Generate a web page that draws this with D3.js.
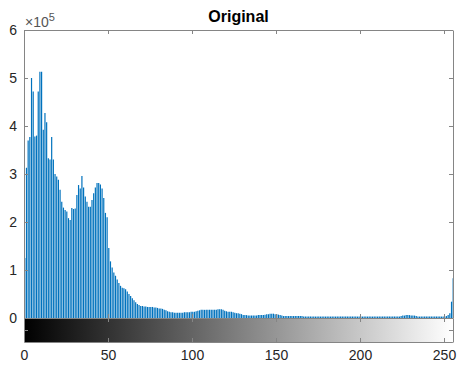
<!DOCTYPE html>
<html>
<head>
<meta charset="utf-8">
<script src="https://cdn.jsdelivr.net/npm/d3@7"></script>
<style>
  body { margin: 0; background: #fff; }
  svg { display: block; }
  text { font-family: "Liberation Sans", Arial, sans-serif; }
</style>
</head>
<body>
<svg id="chart"></svg>
<script>
// pixel counts per gray level 0..255, in thousands
const countsK = [
  125, 313, 370, 377, 500, 472, 378, 380, 472, 513,
  513, 392, 427, 408, 333, 330, 377, 330, 300, 295,
  288, 267, 242, 230, 225, 222, 208, 204, 229, 227,
  228, 256, 277, 270, 296, 272, 253, 242, 232, 232,
  246, 260, 272, 281, 281, 278, 270, 250, 219, 210,
  146, 118, 105, 95, 88, 80, 73, 67, 63, 62,
  60, 55, 50, 46, 41, 37, 33, 29, 27, 25,
  25, 24, 24, 23, 23, 23, 23, 22, 22, 21,
  20, 20, 19, 17, 16, 14, 13, 12, 12, 11,
  11, 11, 11, 11, 11, 12, 12, 12, 12, 13,
  13, 13, 14, 15, 16, 17, 17, 17, 17, 17,
  17, 17, 17, 17, 17, 18, 18, 18, 17, 15,
  14, 13, 13, 13, 12, 11, 10, 10, 9, 8,
  6, 6, 6, 5, 5, 5, 5, 5, 5, 6,
  6, 6, 6, 7, 8, 8, 9, 9, 9, 8,
  8, 7, 6, 5, 4, 4, 4, 4, 4, 4,
  4, 4, 4, 4, 4, 4, 3, 3, 3, 3,
  3, 3, 3, 3, 3, 3, 3, 3, 3, 3,
  3, 3, 3, 3, 3, 3, 3, 3, 3, 3,
  3, 3, 3, 3, 3, 3, 3, 3, 3, 3,
  3, 3, 3, 3, 3, 3, 3, 3, 3, 3,
  3, 3, 3, 3, 3, 3, 3, 3, 3, 3,
  3, 3, 3, 3, 4, 5, 5, 6, 6, 6,
  5, 5, 5, 4, 3, 3, 3, 3, 3, 3,
  3, 3, 3, 3, 3, 3, 3, 3, 3, 3,
  3, 4, 6, 10, 34, 83
];
const xTicks = [0, 50, 100, 150, 200, 250];
const yTicks = [0, 1, 2, 3, 4, 5, 6];   // x 10^5
const title = "Original";

const W = 459, H = 365;
const padL = 24, padR = 453, padT = 30, histBottom = 318, barBottom = 342;
const axisColor = "#858585", textColor = "#262626";

const svg = d3.select("#chart").attr("width", W).attr("height", H);

const x = d3.scaleLinear().domain([0, 255]).range([padL, padR - 0.6]);
const y = d3.scaleLinear().domain([0, 6]).range([histBottom, padT]);

// stems (nudged off the axis line like the original)
svg.append("g")
  .attr("transform", "translate(0.8,0)")
  .selectAll("line")
  .data(countsK)
  .enter()
  .append("line")
  .attr("x1", (d, i) => x(i))
  .attr("x2", (d, i) => x(i))
  .attr("y1", y(0))
  .attr("y2", d => y(d / 100))
  .attr("stroke", "#0072BD")
  .attr("stroke-width", 1.2);

// gray colorbar
const grad = svg.append("defs").append("linearGradient")
  .attr("id", "gray").attr("x1", "0%").attr("x2", "100%");
grad.append("stop").attr("offset", "0%").attr("stop-color", "#000");
grad.append("stop").attr("offset", "100%").attr("stop-color", "#fff");
svg.append("rect")
  .attr("x", padL).attr("y", histBottom)
  .attr("width", padR - padL).attr("height", barBottom - histBottom)
  .attr("fill", "url(#gray)");

function styleAxis(g) {
  g.selectAll(".domain").attr("stroke", axisColor);
  g.selectAll(".tick line").attr("stroke", axisColor);
  g.selectAll("text").attr("fill", textColor).attr("font-size", 14)
    .attr("font-family", '"Liberation Sans", Arial, sans-serif');
}

// left axis with labels
svg.append("g")
  .attr("transform", `translate(${padL},0)`)
  .call(d3.axisLeft(y).tickValues(yTicks).tickFormat(d3.format("d"))
    .tickSizeInner(-4).tickSizeOuter(0).tickPadding(7))
  .call(styleAxis);

// right axis
svg.append("g")
  .attr("transform", `translate(${padR},0)`)
  .call(d3.axisRight(y).tickValues(yTicks).tickFormat("")
    .tickSizeInner(-4).tickSizeOuter(0))
  .call(styleAxis);

// top axis
svg.append("g")
  .attr("transform", `translate(0,${padT})`)
  .call(d3.axisTop(x).tickValues(xTicks).tickFormat("")
    .tickSizeInner(-4).tickSizeOuter(0))
  .call(styleAxis);

// histogram bottom ticks
svg.append("g")
  .attr("transform", `translate(0,${histBottom})`)
  .call(d3.axisBottom(x).tickValues(xTicks).tickFormat("")
    .tickSizeInner(-4).tickSizeOuter(0))
  .call(styleAxis);

// colorbar top ticks
svg.append("g")
  .attr("transform", `translate(0,${histBottom})`)
  .call(d3.axisTop(x).tickValues(xTicks).tickFormat("")
    .tickSizeInner(-4).tickSizeOuter(0))
  .call(styleAxis);

// colorbar bottom axis with labels
svg.append("g")
  .attr("transform", `translate(0,${barBottom})`)
  .call(d3.axisBottom(x).tickValues(xTicks)
    .tickSizeInner(-4).tickSizeOuter(0).tickPadding(8))
  .call(styleAxis);

// colorbar side edges + middle ticks
const cb = d3.scaleLinear().domain([0, 1]).range([barBottom, histBottom]);
svg.append("g")
  .attr("transform", `translate(${padL},0)`)
  .call(d3.axisLeft(cb).tickValues([0.5]).tickFormat("").tickSizeInner(-4).tickSizeOuter(0))
  .call(styleAxis);
svg.append("g")
  .attr("transform", `translate(${padR},0)`)
  .call(d3.axisRight(cb).tickValues([0.5]).tickFormat("").tickSizeInner(-4).tickSizeOuter(0))
  .call(styleAxis);

// exponent label
const ex = svg.append("text")
  .attr("x", padL + 1).attr("y", 27)
  .attr("fill", "#555").attr("font-size", 14);
ex.append("tspan").text("\u00d710");
ex.append("tspan").attr("font-size", 11).attr("dy", -6).text("5");

// title
svg.append("text")
  .attr("x", (padL + padR) / 2).attr("y", 22)
  .attr("text-anchor", "middle")
  .attr("font-weight", "bold")
  .attr("font-size", 16)
  .attr("fill", "#000")
  .text(title);
</script>
</body>
</html>
